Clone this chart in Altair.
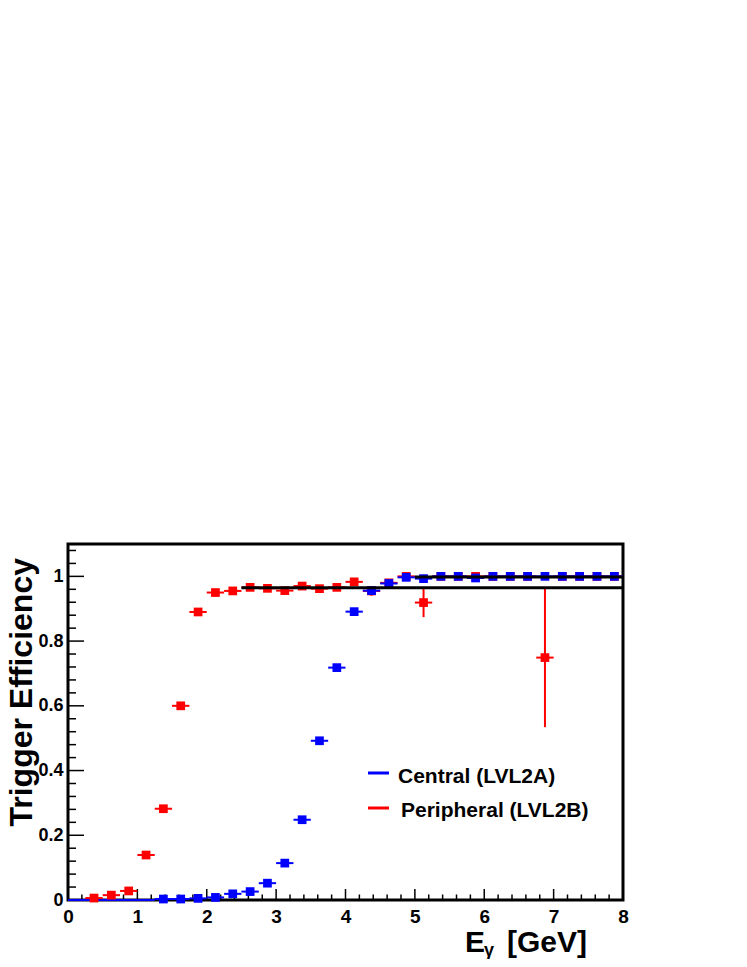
import altair as alt
import pandas as pd
import numpy as np

# ---- data ----
red_x = [0.375, 0.625, 0.875, 1.125, 1.375, 1.625, 1.875, 2.125, 2.375, 2.625,
         2.875, 3.125, 3.375, 3.625, 3.875, 4.125, 4.375, 4.625, 4.875, 5.125,
         5.375, 5.625, 5.875, 6.125, 6.375, 6.625, 6.875, 7.125, 7.375, 7.625, 7.875]
red_y = [0.006, 0.015, 0.028, 0.139, 0.282, 0.600, 0.890, 0.950, 0.955, 0.966,
         0.963, 0.956, 0.970, 0.962, 0.966, 0.983, 0.955, 0.980, 1.000, 0.919,
         1.000, 1.000, 1.000, 1.000, 1.000, 1.000, 0.749, 1.000, 1.000, 1.000, 1.000]
red_err = [0.004, 0.005, 0.006, 0.008, 0.010, 0.010, 0.008, 0.006, 0.006, 0.005,
           0.006, 0.007, 0.006, 0.008, 0.008, 0.007, 0.015, 0.010, 0.005, 0.045,
           0.0, 0.0, 0.0, 0.0, 0.0, 0.0, 0.215, 0.0, 0.0, 0.0, 0.0]

blue_x = [1.375, 1.625, 1.875, 2.125, 2.375, 2.625, 2.875, 3.125, 3.375, 3.625,
          3.875, 4.125, 4.375, 4.625, 4.875, 5.125, 5.375, 5.625, 5.875, 6.125,
          6.375, 6.625, 6.875, 7.125, 7.375, 7.625, 7.875]
blue_y = [0.003, 0.003, 0.005, 0.008, 0.019, 0.026, 0.052, 0.114, 0.248, 0.492,
          0.718, 0.891, 0.956, 0.978, 0.997, 0.993, 1.000, 1.000, 0.995, 1.000,
          1.000, 1.000, 1.000, 1.000, 1.000, 1.000, 1.000]
blue_err = [0.002] * len(blue_x)

bin_half = 0.125
blue_zero_from, blue_zero_to = 0.0, 1.25

fit_x1 = [2.5, 5.0]
fit_x2 = [8.0, 8.0]
fit_y = [0.965, 0.998]

x_major = [0, 1, 2, 3, 4, 5, 6, 7, 8]
y_major = [0, 0.2, 0.4, 0.6, 0.8, 1]

legend_labels = ["Central (LVL2A)", "Peripheral (LVL2B)"]
RED = "#ff0000"
BLUE = "#0000ff"
FONT = "Liberation Sans"

W, H = 555, 356

def mk(xs, ys, errs):
    return pd.DataFrame({
        "x": xs, "y": ys,
        "xlo": [v - bin_half for v in xs], "xhi": [v + bin_half for v in xs],
        "ylo": [a - e for a, e in zip(ys, errs)], "yhi": [a + e for a, e in zip(ys, errs)],
    })

red = mk(red_x, red_y, red_err)
blue = mk(blue_x, blue_y, blue_err)

xscale = alt.Scale(domain=[0, 8], nice=False, zero=False)
yscale = alt.Scale(domain=[0, 1.1], nice=False, zero=False)

xaxis = alt.Axis(values=x_major, format="d", title=None, grid=False, domain=False,
                 ticks=False, tickSize=0, labelFont=FONT, labelFontWeight="bold",
                 labelFontSize=19, labelColor="black", labelPadding=7, labelFlush=False,
                 labelBaseline="top")
yaxis = alt.Axis(values=y_major, format="~g", title=None, grid=False, domain=False,
                 ticks=False, tickSize=0, labelFont=FONT, labelFontWeight="bold",
                 labelFontSize=18, labelColor="black", labelPadding=5, labelFlush=False,
                 labelBaseline="middle")

def X(f):
    return alt.X(f, type="quantitative", scale=xscale, axis=xaxis)

def Y(f):
    return alt.Y(f, type="quantitative", scale=yscale, axis=yaxis)

# ticks (inside)
xt_major = pd.DataFrame({"x": x_major})
xt_minor = pd.DataFrame({"x": [v for v in np.round(np.arange(0, 8.001, 0.2), 3) if abs(v - round(v)) > 1e-6]})
yt_major = pd.DataFrame({"y": y_major})
yt_minor = pd.DataFrame({"y": [v for v in np.round(np.arange(0, 1.1, 0.04), 3)
                               if min(abs(v - m) for m in y_major) > 1e-6]})

tick_layers = [
    alt.Chart(xt_major).mark_rule(color="black", strokeWidth=1.5).encode(
        x=X("x"), y=alt.value(H), y2=alt.value(H - 11)),
    alt.Chart(xt_minor).mark_rule(color="black", strokeWidth=1.5).encode(
        x=X("x"), y=alt.value(H), y2=alt.value(H - 5.5)),
    alt.Chart(yt_major).mark_rule(color="black", strokeWidth=1.5).encode(
        y=Y("y"), x=alt.value(0), x2=alt.value(16)),
    alt.Chart(yt_minor).mark_rule(color="black", strokeWidth=1.5).encode(
        y=Y("y"), x=alt.value(0), x2=alt.value(8)),
]

def series(df, color):
    hbar = alt.Chart(df).mark_rule(color=color, strokeWidth=2).encode(
        x=X("xlo"), x2="xhi", y=Y("y"))
    vbar = alt.Chart(df).mark_rule(color=color, strokeWidth=2).encode(
        x=X("x"), y=Y("ylo"), y2="yhi")
    pts = alt.Chart(df).mark_square(color=color, size=76, opacity=1, filled=True).encode(
        x=X("x"), y=Y("y"))
    return [hbar, vbar, pts]

zero_df = pd.DataFrame({"xlo": [blue_zero_from], "xhi": [blue_zero_to], "y": [0.0]})
zero_line = alt.Chart(zero_df).mark_rule(color=BLUE, strokeWidth=2).encode(
    x=X("xlo"), x2="xhi", y=Y("y"))

fit_df = pd.DataFrame({"xlo": fit_x1, "xhi": fit_x2, "y": fit_y})
fits = alt.Chart(fit_df).mark_rule(color="black", strokeWidth=3).encode(
    x=X("xlo"), x2="xhi", y=Y("y"))

# legend
leg_df = pd.DataFrame({"label": legend_labels, "color": [BLUE, RED],
                       "ly": [229, 264], "ty": [239, 273], "tx": [330, 333]})
leg_lines = alt.Chart(leg_df).mark_rule(strokeWidth=3).encode(
    x=alt.value(300), x2=alt.value(321), y=alt.Y("ly:Q", scale=None),
    color=alt.Color("color:N", scale=None))
leg_text = alt.Chart(leg_df).mark_text(font=FONT, fontWeight="bold", fontSize=21,
                                       align="left", baseline="alphabetic",
                                       color="black").encode(
    x=alt.X("tx:Q", scale=None), y=alt.Y("ty:Q", scale=None), text="label:N")

# titles
ytitle = alt.Chart(pd.DataFrame({"t": ["Trigger Efficiency"]})).mark_text(
    font=FONT, fontWeight="bold", fontSize=32, angle=270, align="right",
    baseline="alphabetic", color="black").encode(
    x=alt.value(-36), y=alt.value(14), text="t:N")

xt_df = pd.DataFrame({"t": ["E", "γ", "[GeV]"], "px": [397, 416, 439],
                      "py": [408, 412, 408], "fs": [30, 18, 30]})
xtitle = alt.Chart(xt_df).mark_text(font=FONT, fontWeight="bold", align="left",
                                    baseline="alphabetic", color="black").encode(
    x=alt.X("px:Q", scale=None), y=alt.Y("py:Q", scale=None), text="t:N",
    size=alt.Size("fs:Q", scale=None, legend=None))

layers = tick_layers + [zero_line] + series(red, RED) + series(blue, BLUE) + [fits, leg_lines, leg_text, ytitle, xtitle]

chart = alt.layer(*layers).properties(
    width=W, height=H,
    autosize=alt.AutoSizeParams(type="none"),
    padding={"left": 60, "top": 536, "right": 116, "bottom": 59},
    background="white",
).configure_view(stroke="black", strokeWidth=3)

chart.save("out.html", embed_options={"renderer": "svg", "actions": False})
